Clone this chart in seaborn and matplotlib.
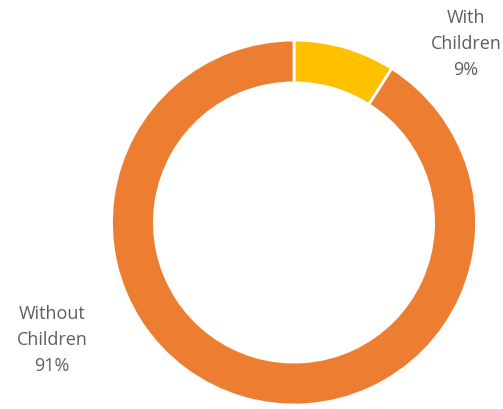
import matplotlib
matplotlib.use("Agg")
import matplotlib.pyplot as plt
import seaborn as sns

# Share of households with / without children
categories = ["With\nChildren", "Without\nChildren"]
shares = [9, 91]
colors = ["#FFC000", "#ED7D31"]

sns.set_theme(style="white")
plt.rcParams["font.family"] = ["Open Sans", "DejaVu Sans"]

fig = plt.figure(figsize=(5.03, 4.10), dpi=100)
ax = fig.add_axes([0, 0, 1, 1])

cx, cy, r = 294, 186.5, 182.5
wedges, _ = ax.pie(
    shares,
    colors=colors,
    startangle=90,
    counterclock=False,
    center=(cx, cy),
    radius=r,
    wedgeprops=dict(width=r * 0.235, edgecolor="white", linewidth=2),
    frame=True,
)
ax.set_xlim(0, 503)
ax.set_ylim(0, 410)
ax.set_aspect("equal")
ax.axis("off")

label_pos = [(466, 366), (52, 70)]
for name, val, (x, y) in zip(categories, shares, label_pos):
    ax.text(x, y, f"{name}\n{val}%", ha="center", va="center",
            fontsize=13, color="#5f5f5f", linespacing=1.55)

fig.savefig("out.png", dpi=100)
